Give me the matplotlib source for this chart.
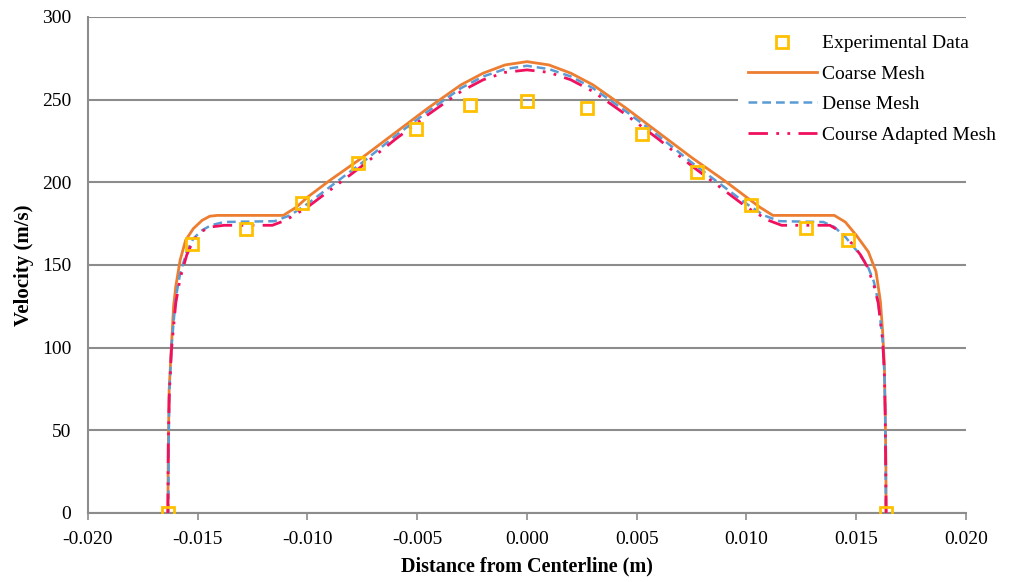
import matplotlib
matplotlib.use("Agg")
import matplotlib.pyplot as plt

plt.rcParams['font.family'] = ['Liberation Serif', 'DejaVu Serif']

# experimental data
exp_x = [-0.01636, -0.01526, -0.0128, -0.01025, -0.0077, -0.00506, -0.0026, 0.0,
         0.00273, 0.00524, 0.00775, 0.0102, 0.0127, 0.01463, 0.01636]
exp_v = [0, 162.7, 171.8, 187.5, 211.7, 232.3, 246.8, 249.2,
         245, 229.2, 206.3, 186.3, 172.4, 165, 0]

# coarse mesh
coarse_x = [-0.01636, -0.01634, -0.0163, -0.01624, -0.0161, -0.0160, -0.0158, -0.01555,
            -0.0152, -0.0148, -0.01445, -0.0141, -0.0111, -0.0105, -0.0100, -0.0090,
            -0.0075, -0.0060, -0.0045, -0.0030, -0.0020, -0.0010, 0.0, 0.0010, 0.0020,
            0.0030, 0.0045, 0.0060, 0.0075, 0.0090, 0.0100, 0.0106, 0.0112, 0.0140,
            0.0145, 0.0150, 0.01555, 0.0159, 0.0161, 0.0162, 0.01628, 0.01632, 0.01635,
            0.01636]
coarse_v = [0, 40, 75, 90, 125, 137, 153, 165,
            172, 177, 179.5, 180, 180, 185, 191, 201,
            215, 230, 245, 259, 266, 271, 273, 271, 266,
            259, 245, 230, 215, 201, 191, 185, 180, 180,
            176, 168, 158, 146, 128, 110, 90, 60, 30,
            0]

# dense mesh
dense_x = [-0.01634, -0.01632, -0.0163, -0.0162, -0.0160, -0.0158, -0.0155, -0.0152,
           -0.0148, -0.0144, -0.0138, -0.0115, -0.0108, -0.0100, -0.0090, -0.0075,
           -0.0060, -0.0045, -0.0030, -0.0020, -0.0010, 0.0, 0.0010, 0.0020, 0.0030,
           0.0045, 0.0060, 0.0075, 0.0090, 0.0100, 0.0108, 0.0115, 0.0135, 0.0140,
           0.0145, 0.0150, 0.0155, 0.0158, 0.0160, 0.0162, 0.01628, 0.01632, 0.01634,
           0.01635]
dense_v = [0, 40, 70, 100, 130, 145, 158, 166,
           171, 174, 176, 176.5, 180, 187, 197, 212,
           228, 243, 257, 264, 268.5, 270.5, 268.5, 264, 257,
           243, 228, 212, 197, 187, 180, 176.5, 176, 173,
           167, 159, 150, 140, 128, 105, 85, 60, 30,
           0]

# course adapted mesh
adapt_x = [-0.01636, -0.01634, -0.0163, -0.0162, -0.0160, -0.0158, -0.0155, -0.0152,
           -0.0148, -0.0144, -0.0138, -0.0116, -0.0110, -0.0100, -0.0090, -0.0075,
           -0.0060, -0.0045, -0.0030, -0.0020, -0.0010, 0.0, 0.0010, 0.0020, 0.0030,
           0.0045, 0.0060, 0.0075, 0.0090, 0.0100, 0.0110, 0.0116, 0.0138, 0.0143,
           0.0148, 0.0152, 0.0155, 0.0158, 0.0160, 0.0162, 0.01628, 0.01632, 0.01634,
           0.01636]
adapt_v = [0, 40, 70, 98, 127, 142, 156, 165,
           170.5, 173, 174, 174, 177, 185, 195, 210,
           226, 241, 255, 262, 266.5, 268, 266.5, 262, 255,
           241, 226, 210, 195, 185, 177, 174, 174, 170,
           163, 156, 149, 138, 127, 105, 85, 60, 30,
           0]

fig = plt.figure(figsize=(10.11, 5.82), dpi=100)
ax = fig.add_axes([0.087, 0.1186, 0.8685, 0.8522])

ax.plot(coarse_x, coarse_v, color='#ED7D31', lw=2.0, label='Coarse Mesh', zorder=3)
ax.plot(dense_x, dense_v, color='#5B9BD5', lw=1.8, ls=(0, (3.5, 2)), label='Dense Mesh', zorder=4)
ax.plot(adapt_x, adapt_v, color='#F0105E', lw=2.0, ls=(0, (7, 3, 1, 3, 1, 3)),
        label='Course Adapted Mesh', zorder=5)
ax.plot(exp_x, exp_v, ls='none', marker='s', ms=9, mfc='none', mec='#FFC000', mew=2,
        label='Experimental Data', zorder=6)

ax.set_xlim(-0.020, 0.020)
ax.set_ylim(0, 300)
ax.set_xticks([-0.020, -0.015, -0.010, -0.005, 0.0, 0.005, 0.010, 0.015, 0.020])
ax.set_xticklabels(['-0.020', '-0.015', '-0.010', '-0.005', '0.000', '0.005', '0.010', '0.015', '0.020'])
ax.set_yticks([0, 50, 100, 150, 200, 250, 300])

ax.grid(axis='y', color='#8C8C8C', lw=1.5)
ax.set_axisbelow(True)
for s in ['top', 'right']:
    ax.spines[s].set_visible(False)
for s in ['left', 'bottom']:
    ax.spines[s].set_color('#8C8C8C')
    ax.spines[s].set_linewidth(1.5)
ax.tick_params(axis='y', length=0, pad=12, labelsize=14)
ax.tick_params(axis='x', length=5, color='#8C8C8C', width=1.2, pad=8, labelsize=14)

ax.set_xlabel('Distance from Centerline (m)', fontsize=14.5, fontweight='bold', labelpad=6)
ax.set_ylabel('Velocity (m/s)', fontsize=15, fontweight='bold', labelpad=6)

h, l = ax.get_legend_handles_labels()
order = [3, 0, 1, 2]
leg = fig.legend([h[i] for i in order], [l[i] for i in order], loc='upper left',
                 bbox_to_anchor=(738 / 1011, 0.957), fontsize=14, frameon=True, framealpha=1,
                 edgecolor='white', fancybox=False, handlelength=3.55, handletextpad=0.25,
                 labelspacing=0.66, borderpad=0.5, borderaxespad=0)
leg.get_frame().set_linewidth(0)

fig.savefig('out.png', dpi=100)
